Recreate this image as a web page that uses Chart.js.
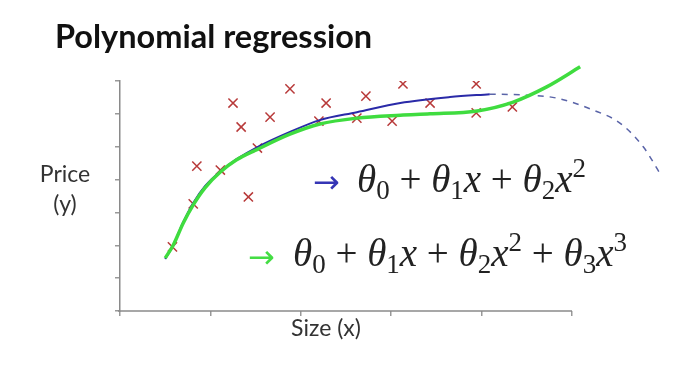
<!DOCTYPE html>
<html>
<head>
<meta charset="utf-8">
<script src="https://cdn.jsdelivr.net/npm/chart.js@4.4.1/dist/chart.umd.min.js"></script>
<style>
    body { margin: 0; background: #fff; }
</style>
</head>
<body>
<canvas id="grafico" width="700" height="366"></canvas>
<script>
const pontosX = [1.25, 1.88, 2.28, 2.72, 3.13, 3.94, 1.34, 1.66, 2.20, 2.62, 3.01, 3.43, 3.94, 4.34, 0.85, 1.11, 1.52, 1.42, 0.81, 0.58];
const pontosY = [6.33, 6.76, 6.33, 6.54, 6.91, 6.91, 5.60, 5.90, 5.78, 5.87, 5.78, 6.33, 6.03, 6.21, 4.41, 4.29, 4.96, 3.47, 3.26, 1.95];

// curva azul (quadratica) - parte solida e parte tracejada
const azulX = [0.50, 0.59, 0.70, 0.81, 0.94, 1.11, 1.29, 1.52, 1.88, 2.21, 2.62, 3.10, 3.65, 4.09];
const azulY = [1.58, 2.01, 2.71, 3.29, 3.80, 4.25, 4.62, 4.99, 5.45, 5.81, 6.05, 6.33, 6.51, 6.60];
const tracejadoX = [4.09, 4.42, 4.83, 5.23, 5.53, 5.79, 5.97];
const tracejadoY = [6.60, 6.58, 6.48, 6.12, 5.72, 4.99, 4.20];

// curva verde (cubica)
const verdeX = [0.50, 0.59, 0.70, 0.81, 0.94, 1.11, 1.29, 1.52, 1.88, 2.21, 2.62, 3.10, 3.43, 3.95, 4.35, 4.72, 5.09];
const verdeY = [1.61, 2.01, 2.68, 3.23, 3.75, 4.23, 4.60, 4.92, 5.38, 5.69, 5.87, 5.96, 6.00, 6.09, 6.36, 6.82, 7.43];

// marcas dos eixos
const ticksX = [0, 1, 2, 3, 4, 5];
const ticksY = [0, 1, 2, 3, 4, 5, 6, 7];

function juntar(xs, ys) {
    return xs.map((x, i) => ({ x: x, y: ys[i] }));
}

function desenharFormula(ctx, partes, x, y) {
    partes.forEach(p => {
        ctx.font = p.f;
        ctx.fillText(p.t, x, y + (p.dy || 0));
        x += ctx.measureText(p.t).width;
    });
}

const fTheta = 'italic 39px "Liberation Serif"';
const fNum = '39px "Liberation Serif"';
const fSub = '27px "Liberation Serif"';

const formula1 = [
    { t: 'θ', f: fTheta }, { t: '0', f: fSub, dy: 7 },
    { t: ' + ', f: fNum },
    { t: 'θ', f: fTheta }, { t: '1', f: fSub, dy: 7 }, { t: 'x', f: fTheta },
    { t: ' + ', f: fNum },
    { t: 'θ', f: fTheta }, { t: '2', f: fSub, dy: 7 }, { t: 'x', f: fTheta }, { t: '2', f: fSub, dy: -15 }
];
const formula2 = formula1.concat([
    { t: ' + ', f: fNum },
    { t: 'θ', f: fTheta }, { t: '3', f: fSub, dy: 7 }, { t: 'x', f: fTheta }, { t: '3', f: fSub, dy: -15 }
]);

const textos = {
    id: 'textos',
    afterDraw(chart) {
        const ctx = chart.ctx;
        const x = chart.scales.x;
        const y = chart.scales.y;
        ctx.save();

        // linha do eixo x so ate a ultima marca
        ctx.strokeStyle = '#8a8a8a';
        ctx.lineWidth = 1.5;
        ctx.beginPath();
        ctx.moveTo(x.getPixelForValue(ticksX[0]) - 2, y.getPixelForValue(0));
        ctx.lineTo(x.getPixelForValue(ticksX[ticksX.length - 1]), y.getPixelForValue(0));
        ctx.stroke();

        ctx.textBaseline = 'alphabetic';
        ctx.textAlign = 'left';

        ctx.fillStyle = '#111';
        ctx.font = 'bold 32.5px Lato';
        ctx.fillText('Polynomial regression', 55, 48);

        ctx.fillStyle = '#333';
        ctx.font = '23px Lato';
        ctx.textAlign = 'center';
        ctx.fillText('Price', 65, 182);
        ctx.fillText('(y)', 65, 212);
        ctx.fillText('Size (x)', 326, 336);
        ctx.textAlign = 'left';

        ctx.font = '32px "DejaVu Sans"';
        ctx.fillStyle = '#3535b5';
        ctx.fillText('→', 313, 193);
        ctx.fillStyle = '#44dd44';
        ctx.fillText('→', 248, 268);

        ctx.fillStyle = '#222';
        desenharFormula(ctx, formula1, 357, 192);
        desenharFormula(ctx, formula2, 293, 266);
        ctx.restore();
    }
};

new Chart(document.getElementById('grafico'), {
    type: 'scatter',
    data: {
        datasets: [
            {
                label: 'dados',
                data: juntar(pontosX, pontosY),
                pointStyle: 'crossRot',
                pointRadius: 6.5,
                pointBorderWidth: 1.5,
                borderColor: '#b83a3a',
                backgroundColor: '#b83a3a',
                order: 3
            },
            {
                label: 'cubica',
                data: juntar(verdeX, verdeY),
                showLine: true,
                pointRadius: 0,
                borderColor: '#3fdc3f',
                borderWidth: 3.5,
                cubicInterpolationMode: 'monotone',
                clip: false,
                order: 1
            },
            {
                label: 'quadratica',
                data: juntar(azulX, azulY),
                showLine: true,
                pointRadius: 0,
                borderColor: '#2a2aa8',
                borderWidth: 2,
                cubicInterpolationMode: 'monotone',
                clip: false,
                order: 2
            },
            {
                label: 'quadratica (extrapolada)',
                data: juntar(tracejadoX, tracejadoY),
                showLine: true,
                pointRadius: 0,
                borderColor: '#5a64a8',
                borderWidth: 1.5,
                borderDash: [6, 6],
                cubicInterpolationMode: 'monotone',
                clip: false,
                order: 2
            }
        ]
    },
    options: {
        responsive: false,
        animation: false,
        layout: { padding: { left: 110, right: 19.5, top: 81, bottom: 45 } },
        plugins: {
            legend: { display: false },
            tooltip: { enabled: false }
        },
        scales: {
            x: {
                type: 'linear',
                min: 0,
                max: 6.2,
                afterBuildTicks: s => { s.ticks = ticksX.map(v => ({ value: v })); },
                afterFit: s => { s.height = 10; },
                ticks: { display: false },
                grid: { drawOnChartArea: false, tickLength: 5, color: '#999', lineWidth: 1.5 },
                border: { display: false }
            },
            y: {
                type: 'linear',
                min: 0,
                max: 7,
                afterBuildTicks: s => { s.ticks = ticksY.map(v => ({ value: v })); },
                afterFit: s => { s.width = 10; },
                ticks: { display: false },
                grid: { drawOnChartArea: false, tickLength: 5, color: '#999', lineWidth: 1.5 },
                border: { color: '#8a8a8a', width: 1.5 }
            }
        }
    },
    plugins: [textos]
});
</script>
</body>
</html>
